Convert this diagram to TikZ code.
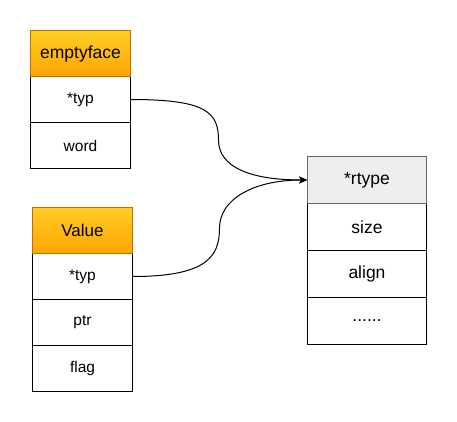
\documentclass[tikz,border=0pt]{standalone}
\usepackage{fontspec}
\setmainfont{Liberation Sans}
\usetikzlibrary{arrows.meta}
\definecolor{hdtop}{HTML}{FFCD28}
\definecolor{hdbot}{HTML}{FFA500}
\definecolor{hdline}{HTML}{BD7000}
\definecolor{grayfill}{HTML}{EEEEEE}
\definecolor{grayline}{HTML}{666666}
\tikzset{
  cell/.style={draw=black, line width=1pt, fill=white, rectangle, inner sep=0pt,
    minimum width=99.4pt, minimum height=46pt, anchor=north west, font=\fontsize{15.5}{18}\selectfont},
  widecell/.style={cell, minimum width=118.6pt, minimum height=47pt, font=\fontsize{17.5}{20}\selectfont},
  orangehead/.style={cell, draw=hdline, top color=hdtop, bottom color=hdbot, font=\fontsize{17.5}{20}\selectfont},
  grayhead/.style={widecell, draw=grayline, fill=grayfill, font=\fontsize{17.5}{20}\selectfont},
  link/.style={draw=black, line width=1pt, -{Stealth[length=8pt,width=7pt,inset=2pt]}}
}
\begin{document}
\begin{tikzpicture}[x=1pt,y=-1pt]
\useasboundingbox (0,0) rectangle (457,422);
% emptyface
\node[cell] (e1) at (30.3,76) {*typ};
\node[cell] (e2) at (30.3,122) {word};
\node[orangehead] (e0) at (30.3,30) {emptyface};
% Value
\node[cell] (v1) at (32.3,253) {*typ};
\node[cell] (v2) at (32.3,299) {ptr};
\node[cell] (v3) at (32.3,345) {flag};
\node[orangehead, font=\fontsize{17}{20}\selectfont] (v0) at (32.3,207) {Value};
% rtype
\node[widecell] (r1) at (307.2,203) {size};
\node[widecell] (r2) at (307.2,250) {align};
\node[widecell] (r3) at (307.2,297) {......};
\node[grayhead] (r0) at (307.2,156) {*rtype};
% connectors
\coordinate (m1) at (218.5,140);
\coordinate (m2) at (219.5,228);
\draw[link] (e1.east) .. controls +(75,0) and +(0,-28) .. (m1)
  .. controls +(0,28) and +(-55,0) .. (r0.west);
\draw[link] (v1.east) .. controls +(75,0) and +(0,28) .. (m2)
  .. controls +(0,-28) and +(-55,0) .. (r0.west);
\end{tikzpicture}
\end{document}
